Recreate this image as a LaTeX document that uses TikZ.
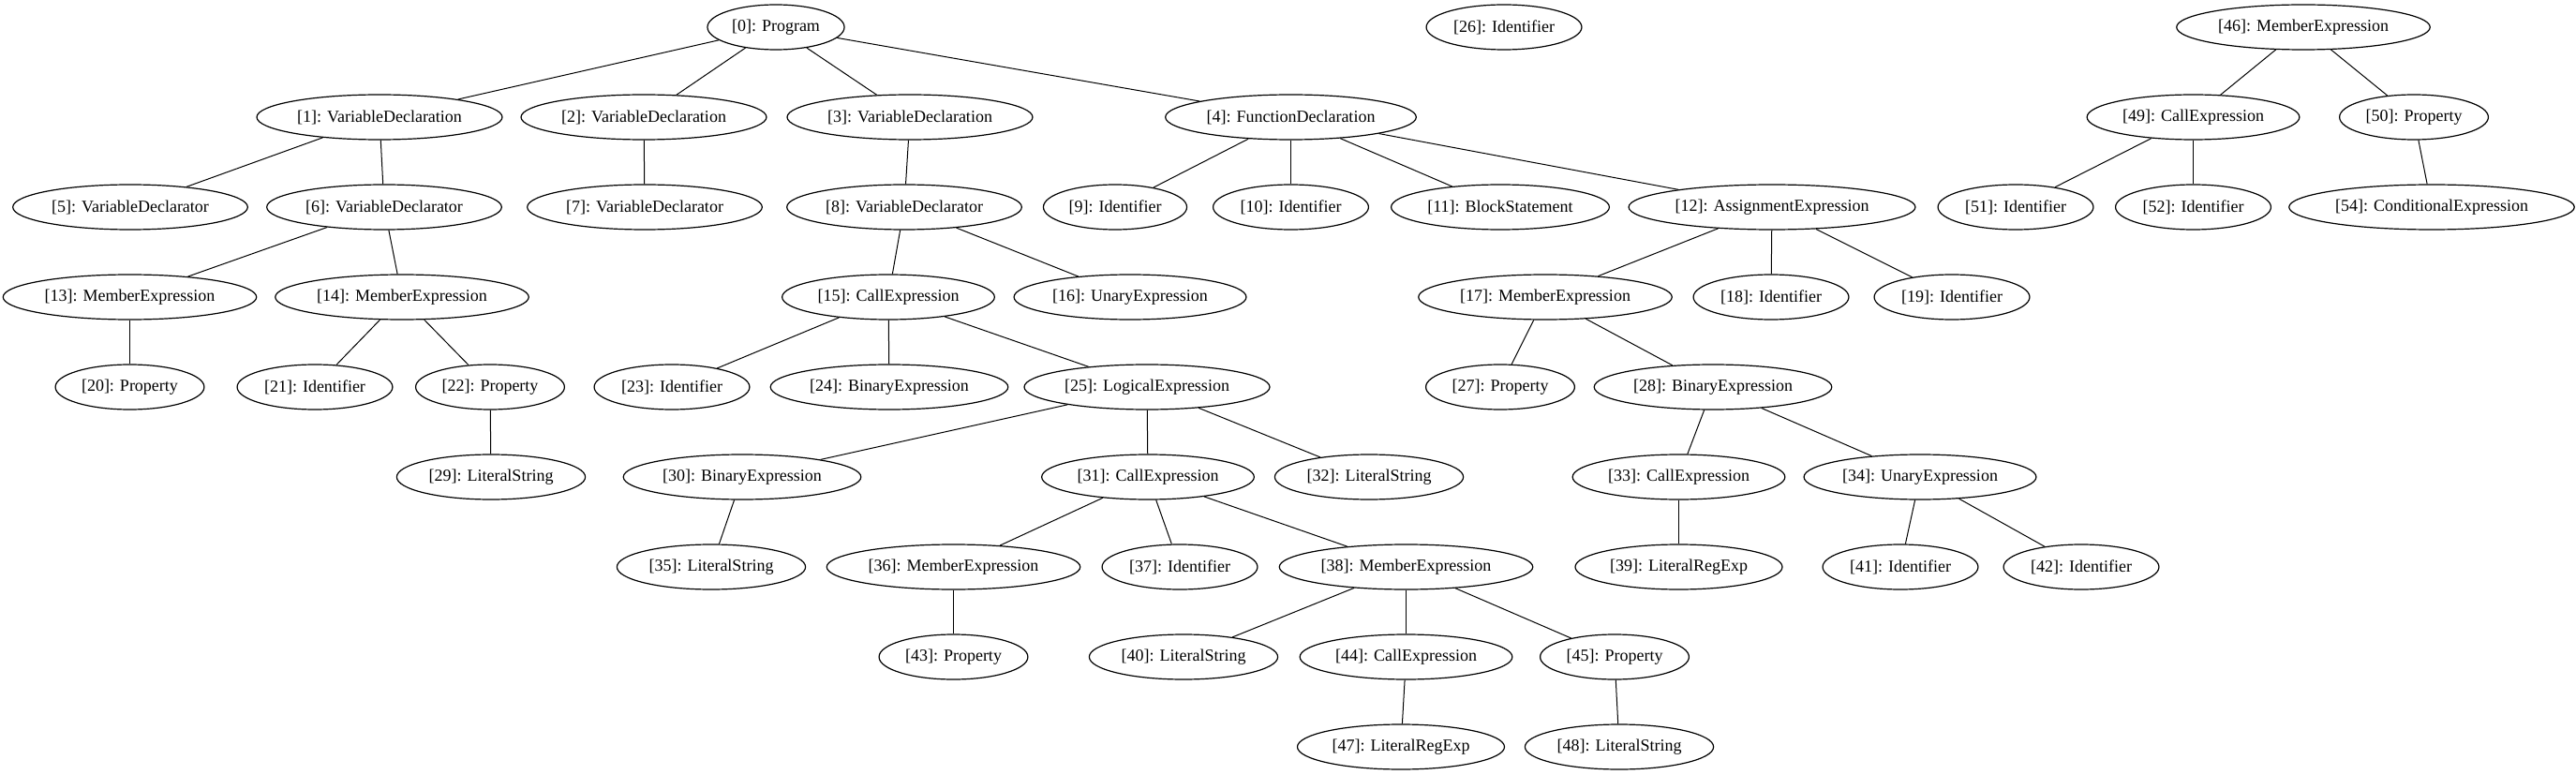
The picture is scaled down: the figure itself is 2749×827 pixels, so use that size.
\documentclass[tikz,border=0pt]{standalone}
\usepackage{fontspec}
\setmainfont{Liberation Serif}
\usepackage{tikz}
\usetikzlibrary{shapes.geometric}

\tikzset{
  astnode/.style={ellipse, draw=black, line width=0.9pt, inner xsep=3.5pt, inner ysep=2pt,
    minimum height=36pt, font=\fontsize{13.5}{16}\selectfont},
  astedge/.style={draw=black, line width=0.75pt}
}

\begin{document}
\begin{tikzpicture}[x=0.75pt, y=-0.75pt]
\useasboundingbox (0,0) rectangle (2749,827);

\foreach \i/\x/\r/\t in {
  0/828/0/Program, 26/1605/0/Identifier, 46/2458/0/MemberExpression,
  1/405/1/VariableDeclaration, 2/687/1/VariableDeclaration, 3/971/1/VariableDeclaration,
  4/1377.5/1/FunctionDeclaration, 49/2340.5/1/CallExpression, 50/2576/1/Property,
  5/139/2/VariableDeclarator, 6/410/2/VariableDeclarator, 7/688/2/VariableDeclarator,
  8/965/2/VariableDeclarator, 9/1190/2/Identifier, 10/1377.5/2/Identifier,
  11/1601/2/BlockStatement, 12/1891/2/AssignmentExpression, 51/2151/2/Identifier,
  52/2340.5/2/Identifier, 54/2595/2/ConditionalExpression,
  13/138.5/3/MemberExpression, 14/429/3/MemberExpression, 15/948/3/CallExpression,
  16/1206/3/UnaryExpression, 17/1649/3/MemberExpression, 18/1890/3/Identifier,
  19/2083/3/Identifier,
  20/138.5/4/Property, 21/336/4/Identifier, 22/523/4/Property, 23/717/4/Identifier,
  24/949/4/BinaryExpression, 25/1224/4/LogicalExpression, 27/1601/4/Property,
  28/1828/4/BinaryExpression,
  29/524/5/LiteralString, 30/792/5/BinaryExpression, 31/1225/5/CallExpression,
  32/1461/5/LiteralString, 33/1791.5/5/CallExpression, 34/2049/5/UnaryExpression,
  35/759/6/LiteralString, 36/1017.5/6/MemberExpression, 37/1259/6/Identifier,
  38/1500.5/6/MemberExpression, 39/1791.5/6/LiteralRegExp, 41/2028/6/Identifier,
  42/2221/6/Identifier,
  43/1017.5/7/Property, 40/1263/7/LiteralString, 44/1500.5/7/CallExpression,
  45/1723/7/Property,
  47/1495/8/LiteralRegExp, 48/1728/8/LiteralString}
  \node[astnode] (n\i) at (\x, {29+96*\r}) {[\i]: \t};

\foreach \a/\b in {0/1, 0/2, 0/3, 0/4, 1/5, 1/6, 2/7, 3/8, 4/9, 4/10, 4/11, 4/12,
  6/13, 6/14, 8/15, 8/16, 12/17, 12/18, 12/19, 13/20, 14/21, 14/22,
  15/23, 15/24, 15/25, 17/27, 17/28, 22/29, 25/30, 25/31, 25/32,
  28/33, 28/34, 30/35, 31/36, 31/37, 31/38, 33/39, 34/41, 34/42,
  36/43, 38/40, 38/44, 38/45, 44/47, 45/48, 46/49, 46/50, 49/51, 49/52, 50/54}
  \draw[astedge] (n\a) -- (n\b);
\end{tikzpicture}
\end{document}
